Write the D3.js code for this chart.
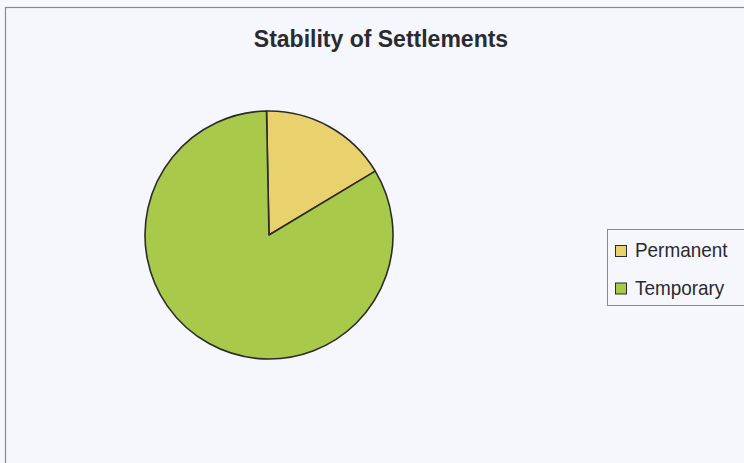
<!DOCTYPE html>
<html>

<head>
  <title>Stability of Settlements</title>
  <style>
    body,
    html {
      margin: 0;
      padding: 0;
      background: #f5f7fc;
    }
  </style>
</head>

<body>
  <svg id="svg" width="744" height="463"></svg>

  <script src="https://d3js.org/d3.v7.min.js"></script>
  <script>
    const categories = ["Permanent", "Temporary"]
    const values = [16.7, 83.3]
    const colors = ["#e9d16e", "#a9c94b"]

    const width = 744
    const height = 463
    const cx = 269
    const cy = 235
    const radius = 124

    const svg = d3.select("#svg")

    // chart area frame
    svg.append("rect")
      .attr("x", 5.5)
      .attr("y", 7.5)
      .attr("width", width + 10)
      .attr("height", height + 10)
      .attr("fill", "#f5f7fc")
      .attr("stroke", "#8a8a8a")
      .attr("stroke-width", 1.2)

    svg.append("text")
      .attr("x", 381)
      .attr("y", 47)
      .attr("text-anchor", "middle")
      .attr("font-family", "Liberation Sans, Arial, sans-serif")
      .attr("font-weight", "bold")
      .attr("font-size", 23)
      .attr("fill", "#2a2a30")
      .text("Stability of Settlements")

    const data = categories.map((c, i) => ({ name: c, value: values[i] }))

    const pie = d3.pie()
      .sort(null)
      .value(d => d.value)
      .startAngle(-0.02)
      .endAngle(2 * Math.PI - 0.02)

    const arc = d3.arc()
      .innerRadius(0)
      .outerRadius(radius)

    const color = d3.scaleOrdinal()
      .domain(categories)
      .range(colors)

    svg.append("g")
      .attr("transform", `translate(${cx}, ${cy})`)
      .selectAll("path")
      .data(pie(data))
      .enter()
      .append("path")
      .attr("d", arc)
      .attr("fill", d => color(d.data.name))
      .attr("stroke", "#2b2b2b")
      .attr("stroke-width", 1.6)
      .attr("stroke-linejoin", "round")

    // legend
    const legend = svg.append("g")

    legend.append("rect")
      .attr("x", 607.5)
      .attr("y", 229.5)
      .attr("width", 150)
      .attr("height", 76)
      .attr("fill", "#f5f7fc")
      .attr("stroke", "#8a8a8a")
      .attr("stroke-width", 1)

    const items = legend.selectAll("g.item")
      .data(categories)
      .enter()
      .append("g")
      .attr("class", "item")
      .attr("transform", (d, i) => `translate(615, ${245 + i * 37.5})`)

    items.append("rect")
      .attr("x", 0.5)
      .attr("y", 0.5)
      .attr("width", 11)
      .attr("height", 11)
      .attr("fill", d => color(d))
      .attr("stroke", "#2b2b2b")
      .attr("stroke-width", 1)

    // the original legend font is a bit condensed
    items.append("text")
      .attr("x", 20)
      .attr("y", 12)
      .attr("font-family", "Liberation Sans, Arial, sans-serif")
      .attr("font-size", 21)
      .attr("fill", "#2a2a30")
      .text(d => d)
      .each(function () {
        const w = this.getComputedTextLength()
        d3.select(this)
          .attr("textLength", w * 0.9)
          .attr("lengthAdjust", "spacingAndGlyphs")
      })
  </script>
</body>

</html>
